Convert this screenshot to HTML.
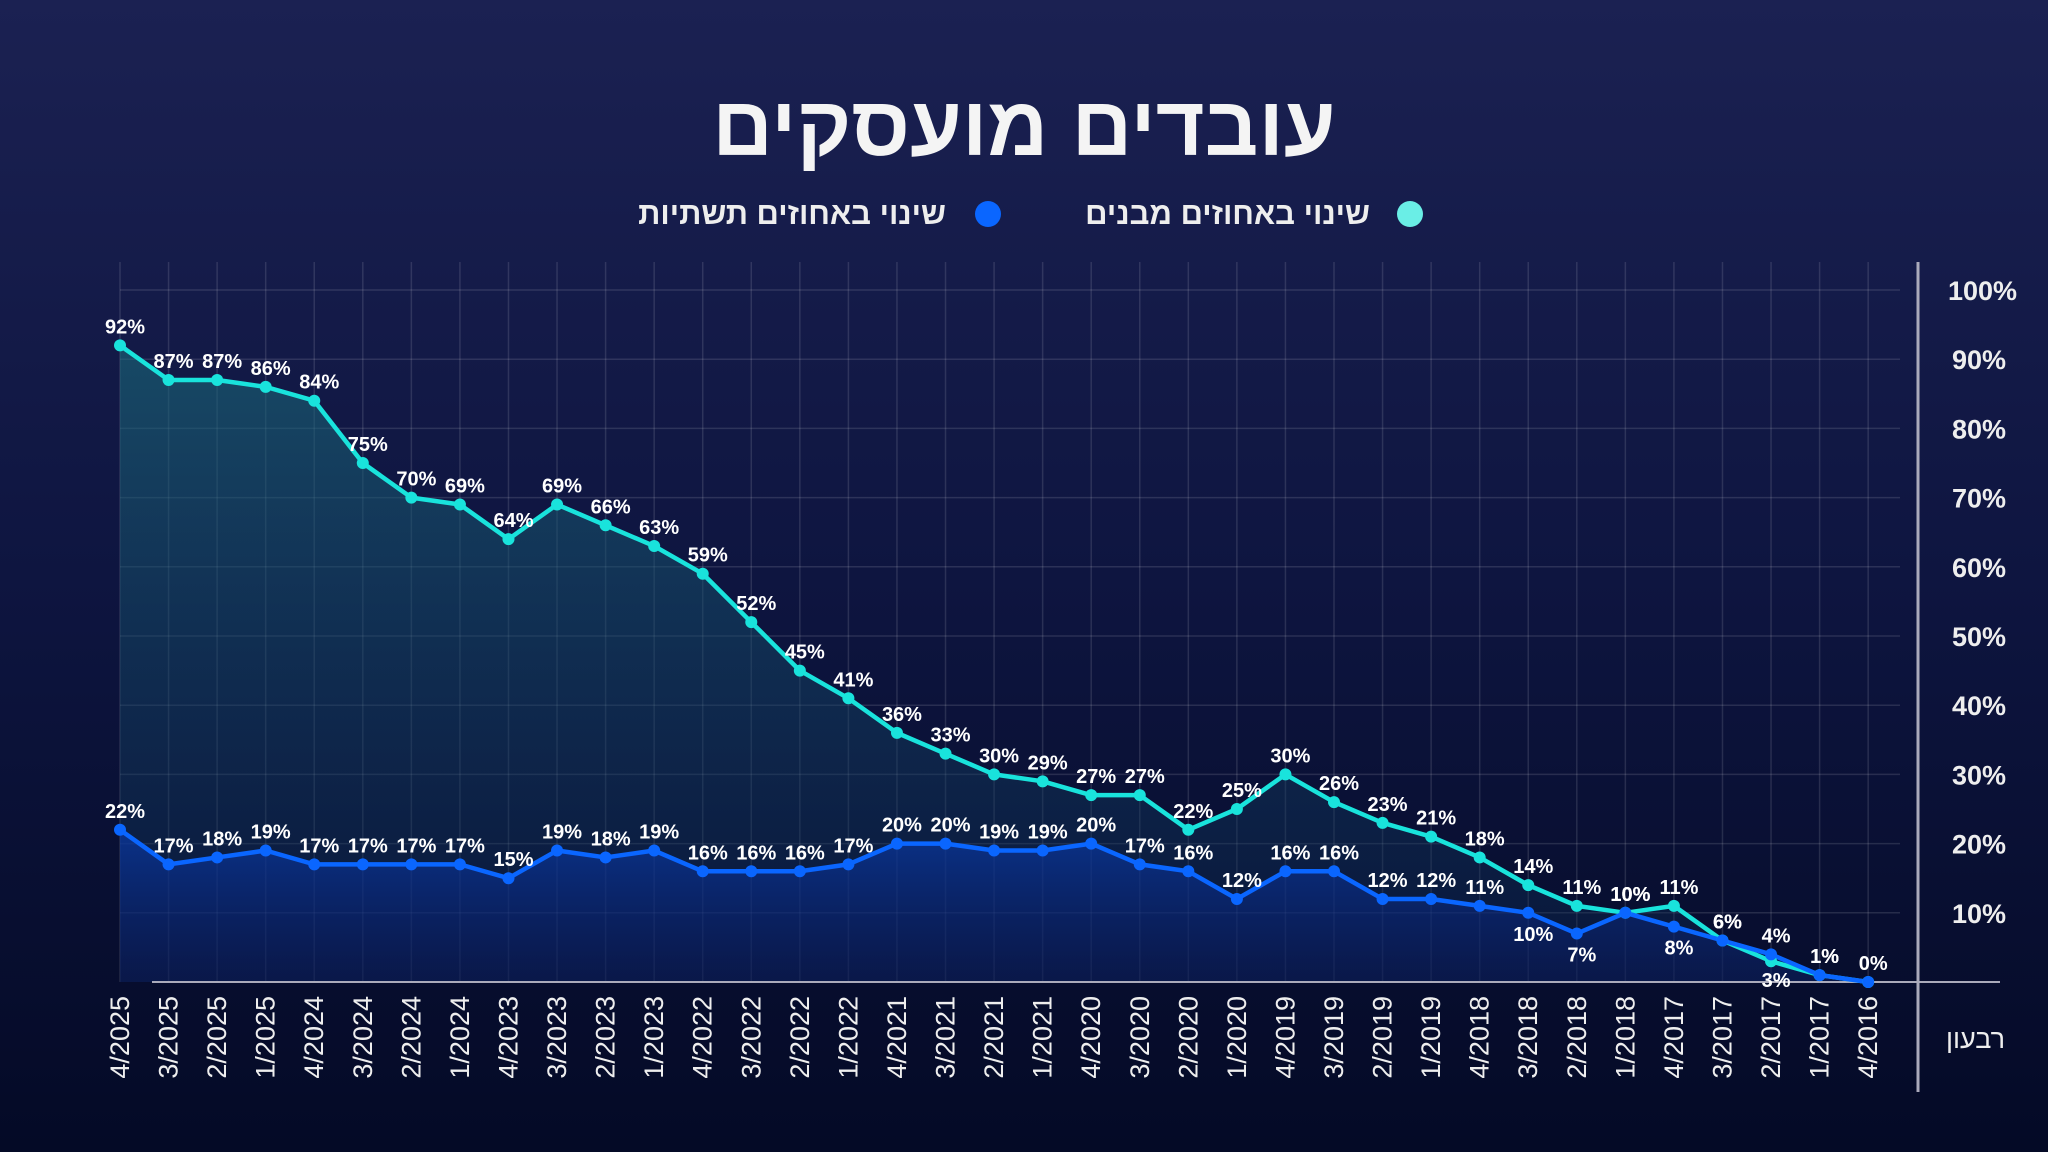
<!DOCTYPE html>
<html><head><meta charset="utf-8"><style>
html,body{margin:0;padding:0;background:#040a26}
body{width:2048px;height:1152px;overflow:hidden;background:linear-gradient(#1b2152 0%,#0e1540 50%,#040a26 100%);font-family:"Liberation Sans","Noto Sans CJK SC",sans-serif}
svg{display:block}
</style></head><body>
<svg id="s" width="2048" height="1152" xmlns="http://www.w3.org/2000/svg">
<defs>
<linearGradient id="gc" x1="0" y1="0" x2="0" y2="1"><stop offset="0" stop-color="#1a6a7a" stop-opacity="0.6"/><stop offset="1" stop-color="#0d2a55" stop-opacity="0.3"/></linearGradient>
<linearGradient id="gb" x1="0" y1="0" x2="0" y2="1"><stop offset="0" stop-color="#0a3aa8" stop-opacity="0.7"/><stop offset="1" stop-color="#0a1a60" stop-opacity="0.4"/></linearGradient>
</defs>
<text x="1024" y="155" text-anchor="middle" fill="#f4f4f4" font-size="84" font-weight="bold">עובדים מועסקים</text>
<circle cx="1410" cy="214" r="13" fill="#6aeee6"/>
<text x="1370" y="224" text-anchor="end" fill="#eee" font-size="31" font-weight="bold">שינוי באחוזים מבנים</text>
<circle cx="988" cy="214" r="13" fill="#0a66ff"/>
<text x="946" y="224" text-anchor="end" fill="#eee" font-size="31" font-weight="bold">שינוי באחוזים תשתיות</text>
<g id="g"></g>
</svg>
<script>
var c=[92,87,87,86,84,75,70,69,64,69,66,63,59,52,45,41,36,33,30,29,27,27,22,25,30,26,23,21,18,14,11,10,11,6,3,1,0];
var b=[22,17,18,19,17,17,17,17,15,19,18,19,16,16,16,17,20,20,19,19,20,17,16,12,16,16,12,12,11,10,7,10,8,6,4,1,0];
var lab=[];for(var y=2025;y>=2016;y--)for(var q=4;q>=1;q--){if(y==2016&&q<4)continue;lab.push(q+"/"+y);}
function X(i){return 120+i*48.56}function Y(v){return 982-6.92*v}
var h='';
for(var k=1;k<=10;k++){h+='<line x1="120" x2="1900" y1="'+Y(k*10)+'" y2="'+Y(k*10)+'" stroke="#ffffff" stroke-opacity="0.12" stroke-width="1.5"/>';
h+='<text x="'+(k==10?1948:1952)+'" y="'+(Y(k*10)+10)+'" fill="#eee" font-size="27" font-weight="bold">'+(k*10)+'%</text>';}
for(var i=0;i<37;i++){h+='<line x1="'+X(i)+'" x2="'+X(i)+'" y1="262" y2="982" stroke="#ffffff" stroke-opacity="0.12" stroke-width="1.5"/>';
h+='<text transform="translate('+(X(i)+9)+',996) rotate(-90)" text-anchor="end" fill="#eee" font-size="27">'+lab[i]+'</text>';}
function area(d,f){var p='M'+X(0)+',982';for(var i=0;i<37;i++)p+=' L'+X(i)+','+Y(d[i]);p+=' L'+X(36)+',982Z';return '<path d="'+p+'" fill="'+f+'"/>';}
function line(d,s){var p='';for(var i=0;i<37;i++)p+=(i?' L':'M')+X(i)+','+Y(d[i]);return '<path d="'+p+'" fill="none" stroke="'+s+'" stroke-width="4.5" stroke-linejoin="round"/>';}
h+=area(c,'url(#gc)')+area(b,'url(#gb)');
h+='<line x1="152" x2="2000" y1="982" y2="982" stroke="#aab" stroke-width="2"/>';
h+='<line x1="1918" x2="1918" y1="262" y2="1092" stroke="#aab" stroke-width="3"/>';
h+=line(c,'#19e3dc')+line(b,'#0a66ff');
for(var i=0;i<37;i++){h+='<circle cx="'+X(i)+'" cy="'+Y(c[i])+'" r="6" fill="#19e3dc"/>';h+='<circle cx="'+X(i)+'" cy="'+Y(b[i])+'" r="6" fill="#0a66ff"/>';}
var belowB={29:1,30:1,32:1};
for(var i=0;i<37;i++){
 var cy=Y(c[i])-12;if(i==34)cy=Y(c[i])+26;
 if(i!=36)h+='<text x="'+(X(i)+5)+'" y="'+cy+'" text-anchor="middle" fill="#fff" font-size="20" font-weight="bold">'+c[i]+'%</text>';
 var by=belowB[i]?Y(b[i])+28:Y(b[i])-12;
 h+='<text x="'+(X(i)+5)+'" y="'+by+'" text-anchor="middle" fill="#fff" font-size="20" font-weight="bold">'+b[i]+'%</text>';}
h+='<text x="2005" y="1048" text-anchor="end" fill="#eee" font-size="27">רבעון</text>';
document.getElementById('g').innerHTML=h;
</script>
</body></html>
